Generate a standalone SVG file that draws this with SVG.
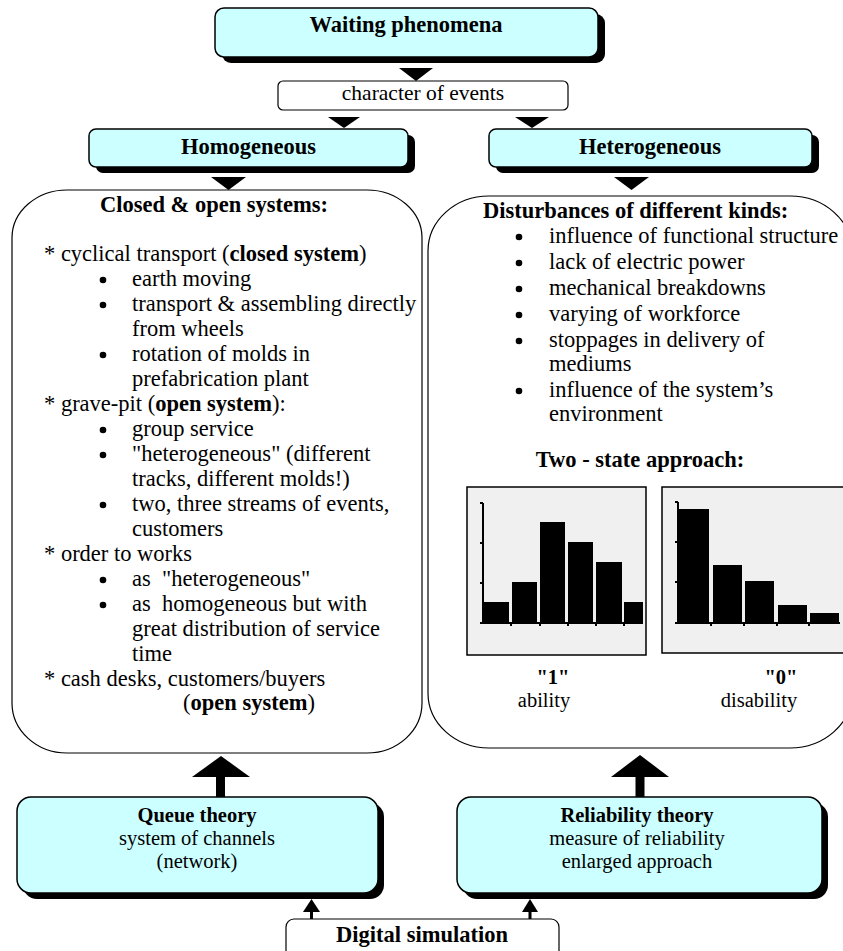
<svg xmlns="http://www.w3.org/2000/svg" width="843" height="951" viewBox="0 0 843 951">
<style>
text{font-family:"Liberation Serif","Times New Roman",serif;font-size:22.5px;fill:#000}
.b{font-weight:bold}
.c{text-anchor:middle}
.s{font-size:20.5px}
.cyan{fill:#ccffff;stroke:#000;stroke-width:1.5}
.shadow{fill:#000}
.white{fill:#fff;stroke:#000;stroke-width:1.2}
.big{fill:#fff;stroke:#000;stroke-width:1.2}
.panel{fill:#f0f0f0;stroke:#000;stroke-width:1.5}
.bar{fill:#000}
.axis{stroke:#000;stroke-width:2;fill:none}
.tri{fill:#000}
.dot{fill:#000}
</style>
<rect width="843" height="951" fill="#fff"/>

<g id="waiting">
<rect class="shadow" x="222" y="14" width="383" height="49" rx="9"/>
<rect class="cyan" x="215" y="8" width="383" height="49" rx="9"/>
<text class="b c" x="406" y="32">Waiting phenomena</text>
</g>

<g id="character">
<rect class="white" x="278" y="81" width="290" height="29" rx="5"/>
<text class="c" x="423" y="100" style="font-size:21.5px">character of events</text>
</g>

<g id="homogeneous">
<rect class="shadow" x="96" y="135" width="319" height="38" rx="7"/>
<rect class="cyan" x="89" y="129" width="319" height="38" rx="7"/>
<text class="b c" x="248.5" y="154">Homogeneous</text>
</g>

<g id="heterogeneous">
<rect class="shadow" x="496" y="135" width="323" height="38" rx="7"/>
<rect class="cyan" x="489" y="129" width="323" height="38" rx="7"/>
<text class="b c" x="650" y="154">Heterogeneous</text>
</g>

<g id="closed-open">
<path class="big" d="M67,190 H367 A55,48 0 0 1 422,238 V703 A55,50 0 0 1 367,753 H67 A55,50 0 0 1 12,703 V238 A55,48 0 0 1 67,190 Z"/>
<text class="b c" x="214" y="212">Closed &amp; open systems:</text>
<text x="44" y="261">* cyclical transport (<tspan class="b">closed system</tspan>)</text>
<circle class="dot" cx="103" cy="280" r="3.3"/>
<text x="132" y="286">earth moving</text>
<circle class="dot" cx="103" cy="305" r="3.3"/>
<text x="132" y="311">transport &amp; assembling directly</text>
<text x="132" y="336">from wheels</text>
<circle class="dot" cx="103" cy="355" r="3.3"/>
<text x="132" y="361">rotation of molds in</text>
<text x="132" y="386">prefabrication plant</text>
<text x="44" y="411">* grave-pit (<tspan class="b">open system</tspan>):</text>
<circle class="dot" cx="103" cy="430" r="3.3"/>
<text x="132" y="436">group service</text>
<circle class="dot" cx="103" cy="455" r="3.3"/>
<text x="132" y="461">"heterogeneous" (different</text>
<text x="132" y="486">tracks, different molds!)</text>
<circle class="dot" cx="103" cy="505" r="3.3"/>
<text x="132" y="511">two, three streams of events,</text>
<text x="132" y="536">customers</text>
<text x="44" y="561">* order to works</text>
<circle class="dot" cx="103" cy="580" r="3.3"/>
<text x="132" y="586" xml:space="preserve">as  "heterogeneous"</text>
<circle class="dot" cx="103" cy="605" r="3.3"/>
<text x="132" y="611" xml:space="preserve">as  homogeneous but with</text>
<text x="132" y="636">great distribution of service</text>
<text x="132" y="661">time</text>
<text x="44" y="686">* cash desks, customers/buyers</text>
<text x="183" y="710">(<tspan class="b">open system</tspan>)</text>
</g>

<g id="disturbances">
<path class="big" d="M489,196 H790 A62,55 0 0 1 852,251 V693 A62,55 0 0 1 790,748 H489 A61,55 0 0 1 428,693 V251 A61,55 0 0 1 489,196 Z"/>
<text x="483" y="218" class="b">Disturbances of different kinds:</text>
<circle class="dot" cx="519" cy="237" r="3.3"/>
<text x="549" y="243">influence of functional structure</text>
<circle class="dot" cx="519" cy="263" r="3.3"/>
<text x="549" y="269">lack of electric power</text>
<circle class="dot" cx="519" cy="289" r="3.3"/>
<text x="549" y="295">mechanical breakdowns</text>
<circle class="dot" cx="519" cy="315" r="3.3"/>
<text x="549" y="321">varying of workforce</text>
<circle class="dot" cx="519" cy="341" r="3.3"/>
<text x="549" y="347">stoppages in delivery of</text>
<text x="549" y="371">mediums</text>
<circle class="dot" cx="519" cy="391" r="3.3"/>
<text x="549" y="397">influence of the system’s</text>
<text x="549" y="421">environment</text>
<text class="b c" x="640" y="467">Two - state approach:</text>

<rect class="panel" x="467" y="487" width="179" height="168"/>
<rect class="bar" x="483" y="602" width="26" height="21"/>
<rect class="bar" x="512" y="582" width="25" height="41"/>
<rect class="bar" x="540" y="522" width="25" height="101"/>
<rect class="bar" x="568" y="542" width="25" height="81"/>
<rect class="bar" x="596" y="562" width="26" height="61"/>
<rect class="bar" x="624" y="602" width="19" height="21"/>
<path class="axis" d="M483,503 V623 H643 M480,503 H483 M480,543 H483 M480,583 H483 M480,623 H483 M511,623 V626 M540,623 V626 M568,623 V626 M596,623 V626 M624,623 V626"/>

<rect class="panel" x="662" y="487" width="200" height="166"/>
<rect class="bar" x="678" y="509" width="31" height="114"/>
<rect class="bar" x="713" y="565" width="29" height="58"/>
<rect class="bar" x="745" y="581" width="29" height="42"/>
<rect class="bar" x="778" y="605" width="29" height="18"/>
<rect class="bar" x="810" y="613" width="29" height="10"/>
<path class="axis" d="M678,502 V623 H840 M675,502 H678 M675,542 H678 M675,582 H678 M675,623 H678 M711,623 V626 M744,623 V626 M777,623 V626 M809,623 V626"/>

<text class="b c s" x="553" y="684">"1"</text>
<text class="c s" x="544" y="707">ability</text>
<text class="b c s" x="781" y="684">"0"</text>
<text class="c s" x="759" y="707">disability</text>
</g>

<g id="queue">
<rect class="shadow" x="23" y="803" width="361" height="96" rx="14"/>
<rect class="cyan" x="17" y="797" width="361" height="96" rx="14"/>
<text class="b c s" x="197" y="822">Queue theory</text>
<text class="c s" x="197" y="845">system of channels</text>
<text class="c s" x="197" y="868">(network)</text>
</g>

<g id="reliability">
<rect class="shadow" x="463" y="803" width="365" height="96" rx="14"/>
<rect class="cyan" x="457" y="797" width="365" height="96" rx="14"/>
<text class="b c s" x="637" y="822">Reliability theory</text>
<text class="c s" x="637" y="845">measure of reliability</text>
<text class="c s" x="637" y="868">enlarged approach</text>
</g>

<g id="digital">
<rect class="white" x="286" y="919" width="273" height="44" rx="8"/>
<text class="b c" x="422" y="942">Digital simulation</text>
</g>

<g id="connectors">
<polygon class="tri" points="399,68 433,68 416,81"/>
<polygon class="tri" points="328,117 360,117 344,128"/>
<polygon class="tri" points="515,117 549,117 532,128"/>
<polygon class="tri" points="211,177 246,177 228.5,190"/>
<polygon class="tri" points="614,177 649,177 631.5,190"/>
<polygon class="tri" points="192,777 250,777 221,756"/>
<rect class="tri" x="216" y="776" width="9" height="21"/>
<polygon class="tri" points="611,777 669,777 640,755"/>
<rect class="tri" x="635.5" y="776" width="9" height="21"/>
<polygon class="tri" points="303,912 320,912 311.5,899"/>
<rect class="tri" x="310" y="911" width="3" height="8"/>
<polygon class="tri" points="522,912 538,912 530,899"/>
<rect class="tri" x="528.5" y="911" width="3" height="8"/>
</g>
</svg>
